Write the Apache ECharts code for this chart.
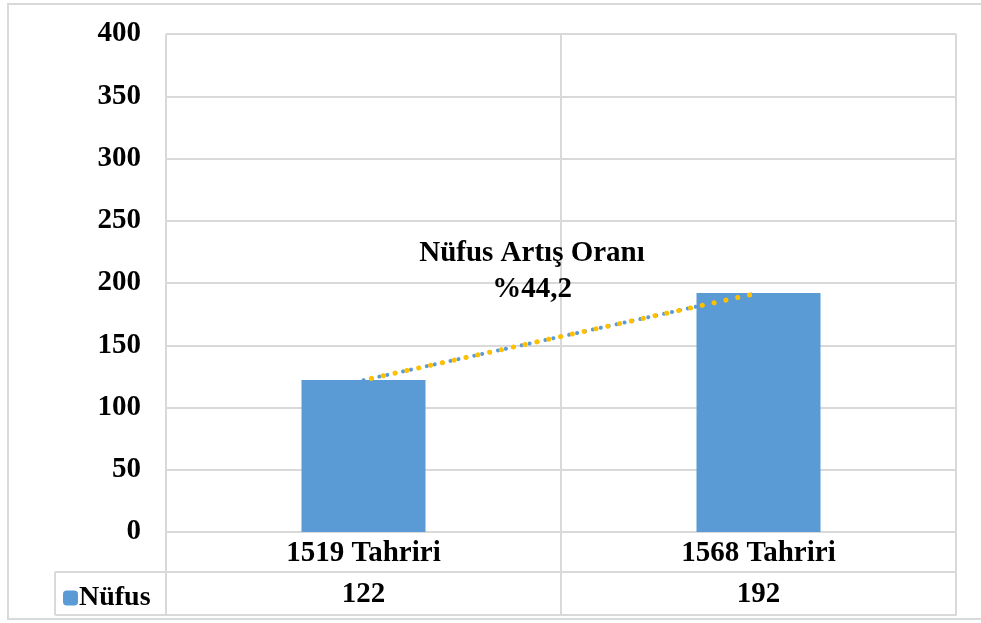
<!DOCTYPE html>
<html>
<head>
<meta charset="utf-8">
<script src="https://cdn.jsdelivr.net/npm/echarts@6/dist/echarts.min.js"></script>
<style>
  html, body { margin: 0; padding: 0; background: #fff; }
  #chart { width: 981px; height: 623px; }
</style>
</head>
<body>
<div id="chart"></div>
<script>
var categories = ['1519 Tahriri', '1568 Tahriri'];
var nufus = [122, 192];
var seriesName = 'Nüfus';
var noteLines = ['Nüfus Artış Oranı', '%44,2'];

var font = '"Liberation Serif", "Times New Roman", serif';
var gridColor = '#d9d9d9';

var chart = echarts.init(document.getElementById('chart'));
chart.setOption({
  animation: false,
  textStyle: { fontFamily: font },
  grid: { left: 166, right: 25, top: 34, bottom: 91 },
  legend: {
    data: [seriesName],
    left: 58,
    top: 579,
    itemWidth: 15,
    itemHeight: 15,
    itemGap: 4,
    textStyle: { fontFamily: font, fontWeight: 'bold', fontSize: 28, color: '#000', padding: [0, 0, 0, -4] }
  },
  xAxis: [
    {
      type: 'category',
      data: categories,
      axisLine: { show: true, lineStyle: { color: gridColor, width: 2 } },
      axisTick: { show: true, length: 83, lineStyle: { color: gridColor, width: 2 } },
      axisLabel: { margin: 7, fontFamily: font, fontWeight: 'bold', fontSize: 29, color: '#000' },
      splitLine: { show: true, lineStyle: { color: gridColor, width: 2 } }
    },
    {
      type: 'category',
      data: categories,
      position: 'bottom',
      offset: 40,
      axisLine: { show: true, lineStyle: { color: gridColor, width: 2 } },
      axisTick: { show: false },
      axisLabel: {
        margin: 8,
        fontFamily: font, fontWeight: 'bold', fontSize: 29, color: '#000',
        formatter: function (v, i) { return String(nufus[i]); }
      }
    },
    {
      type: 'category',
      data: categories,
      position: 'bottom',
      offset: 83,
      axisLine: { show: true, lineStyle: { color: gridColor, width: 2 } },
      axisTick: { show: false },
      axisLabel: { show: false }
    }
  ],
  yAxis: {
    type: 'value',
    min: 0,
    max: 400,
    interval: 50,
    axisLine: { show: false },
    axisTick: { show: false },
    axisLabel: { margin: 25, fontFamily: font, fontWeight: 'bold', fontSize: 29, color: '#000' },
    splitLine: { lineStyle: { color: gridColor, width: 2 } }
  },
  series: [
    {
      name: seriesName,
      type: 'bar',
      data: nufus,
      barWidth: 124,
      itemStyle: { color: '#5B9BD5' }
    },
    {
      name: 'trend1',
      type: 'line',
      data: nufus,
      symbol: 'none',
      silent: true,
      z: 5,
      lineStyle: { color: '#5B9BD5', width: 4, type: [0.1, 8], cap: 'round' }
    },
    {
      name: 'trend2',
      type: 'line',
      data: nufus,
      symbol: 'none',
      silent: true,
      z: 6,
      lineStyle: { color: '#FFC000', width: 5, type: [0.1, 12], dashOffset: 4, cap: 'round' }
    }
  ],
  graphic: [
    { type: 'rect', shape: { x: 8, y: 4, width: 980, height: 615 }, style: { fill: 'none', stroke: gridColor, lineWidth: 2 }, silent: true },
    { type: 'line', shape: { x1: 55, y1: 572, x2: 166, y2: 572 }, style: { stroke: gridColor, lineWidth: 2 } },
    { type: 'line', shape: { x1: 55, y1: 615, x2: 166, y2: 615 }, style: { stroke: gridColor, lineWidth: 2 } },
    { type: 'line', shape: { x1: 55, y1: 572, x2: 55, y2: 615 }, style: { stroke: gridColor, lineWidth: 2 } },
    {
      type: 'text', x: 532, y: 254, z: 10,
      style: { text: noteLines[0], font: 'bold 29px ' + font, fill: '#000', textAlign: 'center', textVerticalAlign: 'middle' }
    },
    {
      type: 'text', x: 532, y: 290, z: 10,
      style: { text: noteLines[1], font: 'bold 29px ' + font, fill: '#000', textAlign: 'center', textVerticalAlign: 'middle' }
    }
  ]
});
</script>
</body>
</html>
